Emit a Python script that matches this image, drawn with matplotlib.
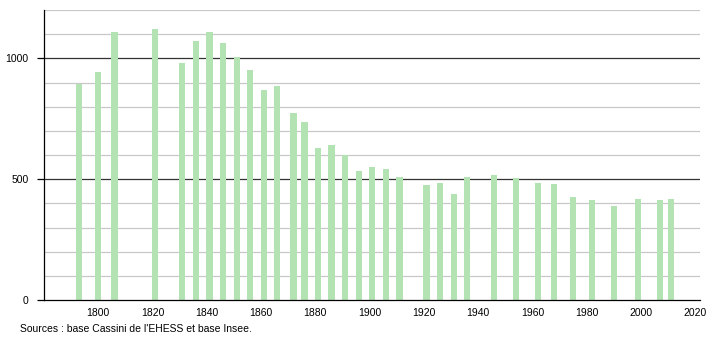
import matplotlib
matplotlib.use("Agg")
import matplotlib.pyplot as plt

plt.rcParams['font.family'] = ['Liberation Sans', 'DejaVu Sans']

# Recensements et population
annees = [1793, 1800, 1806, 1821, 1831, 1836, 1841, 1846, 1851, 1856,
          1861, 1866, 1872, 1876, 1881, 1886, 1891, 1896, 1901, 1906,
          1911, 1921, 1926, 1931, 1936, 1946, 1954, 1962, 1968, 1975,
          1982, 1990, 1999, 2007, 2011]
population = [894, 944, 1107, 1123, 981, 1070, 1107, 1062, 1006, 952,
              869, 886, 773, 736, 628, 643, 602, 532, 549, 541,
              511, 474, 484, 437, 507, 516, 503, 486, 478, 427,
              412, 387, 416, 412, 420]

x_ticks = [1800, 1820, 1840, 1860, 1880, 1900, 1920, 1940, 1960, 1980, 2000, 2020]
y_ticks = [0, 500, 1000]
source = "Sources : base Cassini de l'EHESS et base Insee."

fig = plt.figure(figsize=(7.1, 3.4), dpi=100)
ax = fig.add_axes([44/710, 40/340, 656/710, 290/340])

# grille
for v in range(100, 1300, 100):
    if v % 500 == 0:
        ax.axhline(v, color='#333333', lw=0.9, zorder=1)
    else:
        ax.axhline(v, color='#c8c8c8', lw=0.9, zorder=1)

ax.bar(annees, population, width=2.3, color='#b3e3b3', zorder=2)

ax.set_xlim(1780, 2021.8)
ax.set_ylim(0, 1200)
ax.set_xticks(x_ticks)
ax.set_yticks(y_ticks)
ax.tick_params(axis='x', length=0, labelsize=7.5, pad=6)
ax.tick_params(axis='y', length=5, width=0.9, labelsize=7.5, pad=6)

for s in ['top', 'right']:
    ax.spines[s].set_visible(False)
ax.spines['left'].set_linewidth(0.9)
ax.spines['bottom'].set_linewidth(0.9)

fig.text(20/710, 1 - 329/340, source, fontsize=7.5, va='center', ha='left')

plt.savefig('out.png')
plt.close()
